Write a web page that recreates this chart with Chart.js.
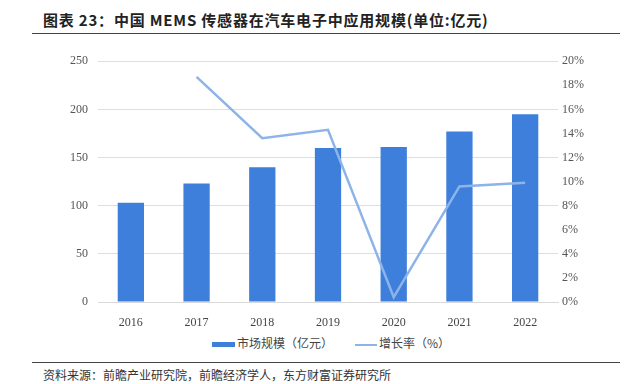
<!DOCTYPE html>
<html>
<head>
<meta charset="utf-8">
<script src="https://cdn.jsdelivr.net/npm/chart.js@4.4.0/dist/chart.umd.min.js"></script>
<style>
  body { margin: 0; width: 628px; height: 384px; background: #fff; position: relative; overflow: hidden; font-family: "Noto Sans CJK SC", sans-serif; }
  #title { position: absolute; left: 43px; top: 9px; font-size: 15px; line-height: 22px; font-weight: bold; color: #222; letter-spacing: 0.8px; white-space: nowrap; }
  .rule { position: absolute; left: 32px; width: 588px; height: 0; border-top: 1.5px solid #444; }
  #chartBox { position: absolute; left: 0; top: 44px; width: 628px; height: 290px; }
  #legend { position: absolute; top: 334px; left: 0; width: 628px; height: 18px; font-size: 12px; line-height: 18px; color: #444; }
  #legend span.item { position: absolute; white-space: nowrap; }
  #source { position: absolute; left: 43px; top: 366px; font-size: 12px; line-height: 18px; color: #333; white-space: nowrap; }
</style>
</head>
<body>
<div id="title">图表 23：中国 MEMS 传感器在汽车电子中应用规模(单位:亿元)</div>
<div class="rule" style="top:33px"></div>
<div id="chartBox"><canvas id="mainChart"></canvas></div>
<div id="legend"></div>
<div class="rule" style="top:362px"></div>
<div id="source">资料来源：前瞻产业研究院，前瞻经济学人，东方财富证券研究所</div>
<script>
// Data
const years = ["2016", "2017", "2018", "2019", "2020", "2021", "2022"];
const marketSize = [103, 123, 140, 160, 161, 177, 195];       // 亿元
const growthRate = [null, 18.7, 13.6, 14.3, 0.4, 9.6, 9.9];  // %
const seriesNames = ["市场规模（亿元）", "增长率（%）"];

const barColor = "#3e7fdc";
const lineColor = "#8db4e8";

const ctx = document.getElementById("mainChart").getContext("2d");
const mainChart = new Chart(ctx, {
  type: "bar",
  data: {
    labels: years,
    datasets: [
      {
        type: "line",
        label: seriesNames[1],
        data: growthRate,
        yAxisID: "y2",
        borderColor: lineColor,
        borderWidth: 2.5,
        pointRadius: 0,
        tension: 0,
        order: 0,
      },
      {
        label: seriesNames[0],
        data: marketSize,
        yAxisID: "y",
        backgroundColor: barColor,
        barPercentage: 0.4,
        categoryPercentage: 1.0,
        order: 1,
      },
    ],
  },
  options: {
    responsive: true,
    maintainAspectRatio: false,
    animation: false,
    layout: { padding: { top: 17, left: 0, right: 0, bottom: 0 } },
    plugins: { legend: { display: false }, tooltip: { enabled: false } },
    scales: {
      x: {
        grid: { display: false },
        border: { display: true, color: "#d9d9d9" },
        ticks: { color: "#444", font: { family: "Liberation Serif", size: 12 }, padding: 6 },
        afterFit: (scale) => { scale.height = 32; },
      },
      y: {
        position: "left",
        min: 0,
        max: 250,
        ticks: { stepSize: 50, color: "#555", font: { family: "Liberation Serif", size: 12 }, padding: 10 },
        grid: { color: "#dedede", drawTicks: false },
        border: { display: false },
        afterFit: (scale) => { scale.width = 98; },
      },
      y2: {
        position: "right",
        min: 0,
        max: 20,
        ticks: {
          stepSize: 2,
          color: "#555",
          font: { family: "Liberation Serif", size: 12 },
          padding: 4,
          callback: (v) => v + "%",
        },
        grid: { display: false, drawTicks: false },
        border: { display: false },
        afterFit: (scale) => { scale.width = 70; },
      },
    },
  },
});

// Legend drawn as HTML so it sits where the original one is
const legend = document.getElementById("legend");
legend.innerHTML =
  '<span class="item" style="left:212px;top:0"><span style="display:inline-block;width:23px;height:5px;background:' + barColor + ';vertical-align:middle;margin-right:2px"></span>' + seriesNames[0] + '</span>' +
  '<span class="item" style="left:355px;top:0"><span style="display:inline-block;width:22px;height:2px;background:' + lineColor + ';vertical-align:middle;margin-right:2px"></span>' + seriesNames[1] + '</span>';
</script>
</body>
</html>
